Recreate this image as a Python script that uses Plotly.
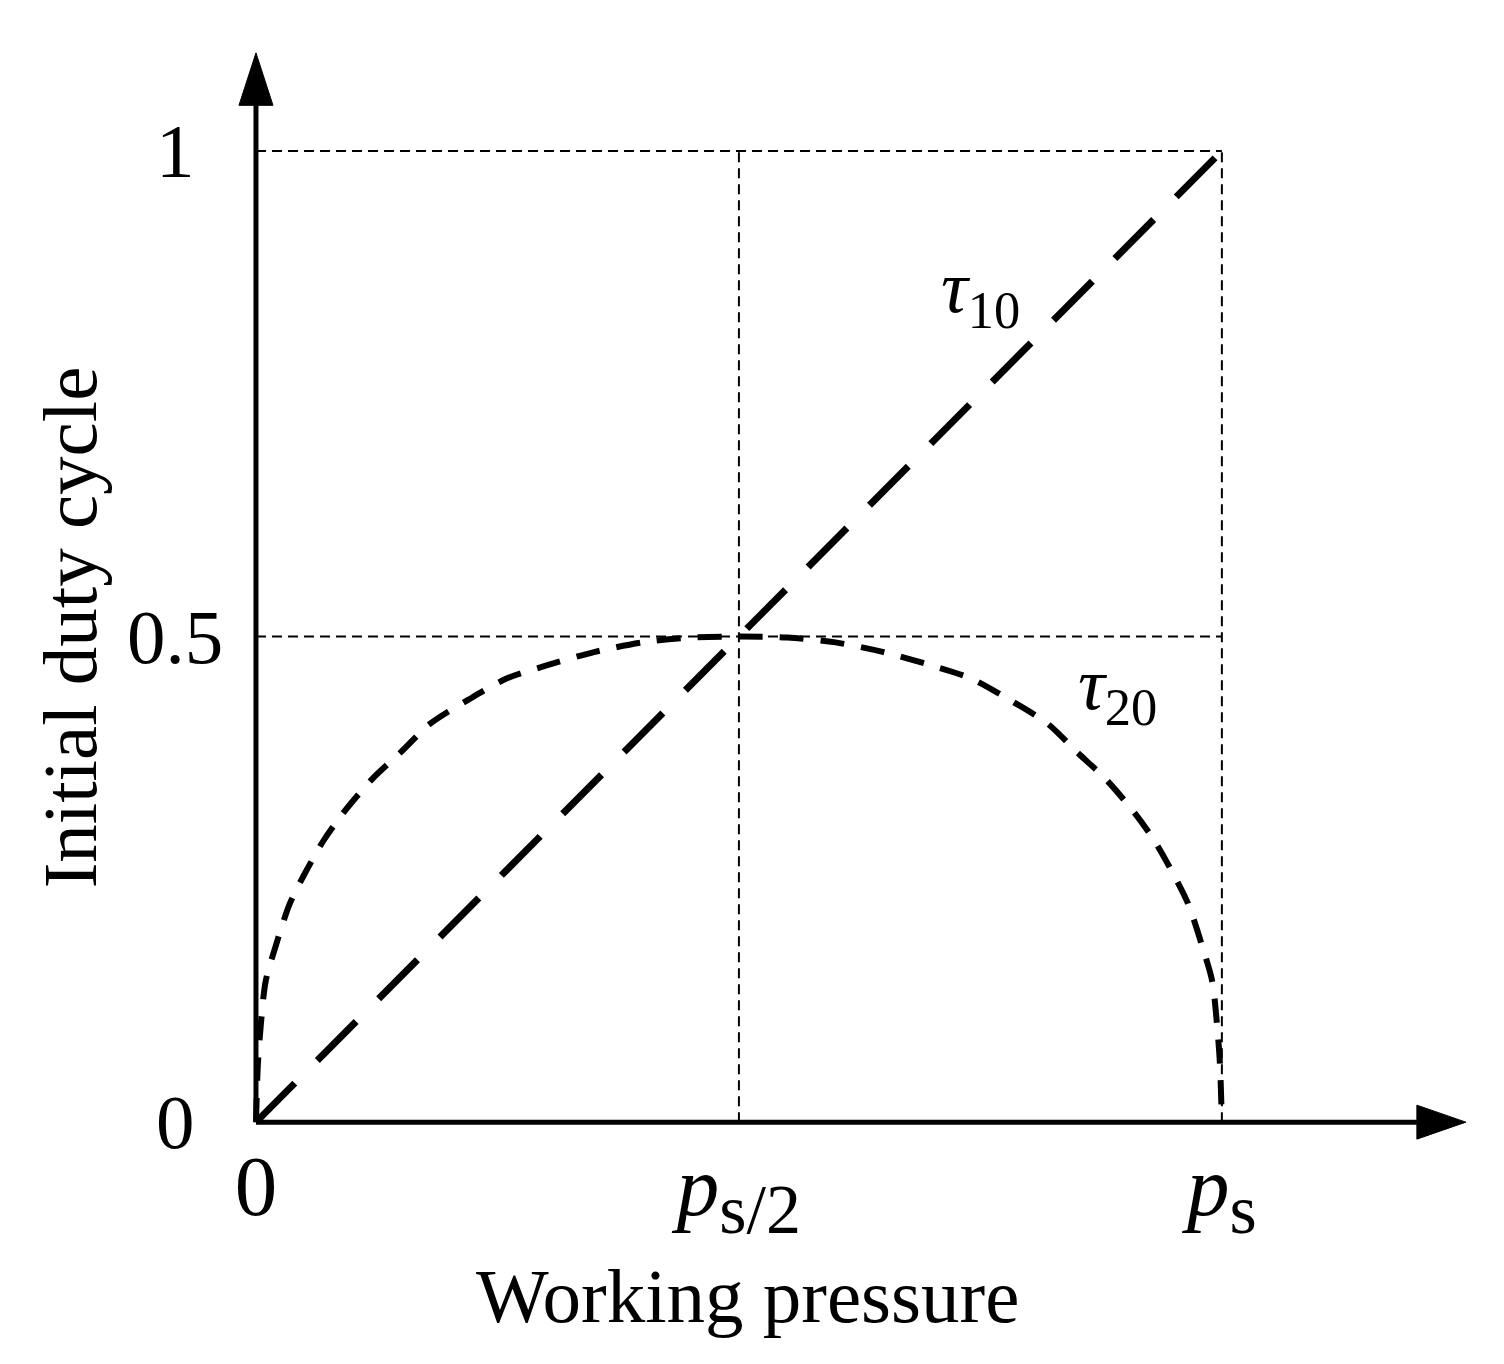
import plotly.graph_objects as go

# ---------------- data ----------------
p_tau10 = [0.0, 0.5, 1.0]
tau10 = [0.0, 0.5, 1.0]

p_tau20 = [0.0, 0.002, 0.005, 0.01, 0.02, 0.035, 0.05, 0.07, 0.09, 0.12, 0.15, 0.18,
           0.22, 0.26, 0.30, 0.35, 0.40, 0.45, 0.50, 0.55, 0.60, 0.65, 0.70, 0.74,
           0.78, 0.82, 0.85, 0.88, 0.91, 0.93, 0.95, 0.965, 0.98, 0.99, 0.995, 0.998, 1.0]
tau20 = [0.0, 0.06, 0.10, 0.145, 0.18, 0.225, 0.255, 0.29, 0.318, 0.353, 0.381, 0.41,
         0.435, 0.457, 0.47, 0.484, 0.494, 0.499, 0.5, 0.499, 0.494, 0.484, 0.47, 0.457,
         0.435, 0.41, 0.381, 0.353, 0.318, 0.29, 0.255, 0.225, 0.18, 0.145, 0.10, 0.06, 0.0]

x_tick_vals = [0, 0.5, 1]
x_tick_text = ["0",
               "<i>p</i><sub><span style='font-size:70px'>s/2</span></sub>",
               "<i>p</i><sub><span style='font-size:70px'>s</span></sub>"]
y_tick_vals = [0, 0.5, 1]
y_tick_text = ["0", "0.5", "1"]

x_title = "Working pressure"
y_title = "Initial duty cycle"

# ---------------- layout geometry ----------------
FONT = "Liberation Serif"
XR = [-0.03, 1.26]
YR = [-0.005, 1.105]


def to_px(x):
    return (x - XR[0]) / (XR[1] - XR[0])


def to_py(y):
    return (y - YR[0]) / (YR[1] - YR[0])


x_tip, x_base, x_half = 1.2526, 1.2019, 0.0175
y_tip, y_base, y_half = 1.101, 1.047, 0.0176

fig = go.Figure()

fig.add_trace(go.Scatter(
    x=p_tau20, y=tau20, mode="lines",
    line=dict(color="black", width=6, dash="24px,17px", shape="spline", smoothing=0.8),
    showlegend=False, hoverinfo="skip"))
fig.add_trace(go.Scatter(
    x=p_tau10, y=tau10, mode="lines",
    line=dict(color="black", width=7, dash="55px,32px"),
    showlegend=False, hoverinfo="skip"))

shapes = []
xmax = max(x_tick_vals)
ymax = max(y_tick_vals)
# dashed guide lines
for yv in y_tick_vals[1:]:
    shapes.append(dict(type="line", xref="x", yref="y", x0=0, x1=xmax, y0=yv, y1=yv,
                       line=dict(color="black", width=2, dash="10px,6px"), layer="below"))
for xv in x_tick_vals[1:]:
    shapes.append(dict(type="line", xref="x", yref="y", x0=xv, x1=xv, y0=0, y1=ymax,
                       line=dict(color="black", width=2, dash="10px,6px"), layer="below"))
# axis lines (paper-referenced so nothing is clipped)
shapes.append(dict(type="line", xref="paper", yref="paper",
                   x0=to_px(0), x1=to_px(x_base), y0=to_py(0), y1=to_py(0),
                   line=dict(color="black", width=5), layer="above"))
shapes.append(dict(type="line", xref="paper", yref="paper",
                   x0=to_px(0), x1=to_px(0), y0=to_py(0), y1=to_py(y_base),
                   line=dict(color="black", width=5), layer="above"))
# arrowheads
shapes.append(dict(type="path", xref="paper", yref="paper",
                   path=(f"M {to_px(x_base)},{to_py(-x_half)} L {to_px(x_tip)},{to_py(0)} "
                         f"L {to_px(x_base)},{to_py(x_half)} Z"),
                   fillcolor="black", line=dict(color="black", width=1), layer="above"))
shapes.append(dict(type="path", xref="paper", yref="paper",
                   path=(f"M {to_px(-y_half)},{to_py(y_base)} L {to_px(0)},{to_py(y_tip)} "
                         f"L {to_px(y_half)},{to_py(y_base)} Z"),
                   fillcolor="black", line=dict(color="black", width=1), layer="above"))

tfont = dict(family=FONT, size=75, color="black")
lfont = dict(family=FONT, size=77, color="black")
annotations = [
    dict(x=0.75, y=0.855, xref="x", yref="y", text="<i>τ</i><sub>10</sub>",
         showarrow=False, font=tfont),
    dict(x=0.892, y=0.446, xref="x", yref="y", text="<i>τ</i><sub>20</sub>",
         showarrow=False, font=tfont),
    dict(x=0.418, y=-0.1568, xref="paper", yref="paper", text=x_title,
         xanchor="center", yanchor="middle", showarrow=False, font=lfont),
    dict(x=-0.126, y=0.4635, xref="paper", yref="paper", text=y_title, textangle=-90,
         xanchor="center", yanchor="middle", showarrow=False, font=lfont),
]
# y tick labels (centered column left of the axis)
for v, t in zip(y_tick_vals, y_tick_text):
    annotations.append(dict(x=-0.0417, y=v, xref="paper", yref="y", text=t,
                            xanchor="center", yanchor="middle", showarrow=False, font=lfont))

fig.update_layout(
    width=1504, height=1364,
    margin=dict(l=219, r=39, t=41, b=245, pad=0),
    paper_bgcolor="white", plot_bgcolor="white",
    shapes=shapes, annotations=annotations,
    xaxis=dict(range=XR, showgrid=False, zeroline=False, showline=False, ticks="",
               tickvals=x_tick_vals, ticktext=x_tick_text, ticklabelstandoff=2,
               tickfont=dict(family=FONT, size=85, color="black"), fixedrange=True),
    yaxis=dict(range=YR, showgrid=False, zeroline=False, showline=False, ticks="",
               tickvals=y_tick_vals, showticklabels=False, fixedrange=True),
)

fig.write_html("out.html", config={"displayModeBar": False})
